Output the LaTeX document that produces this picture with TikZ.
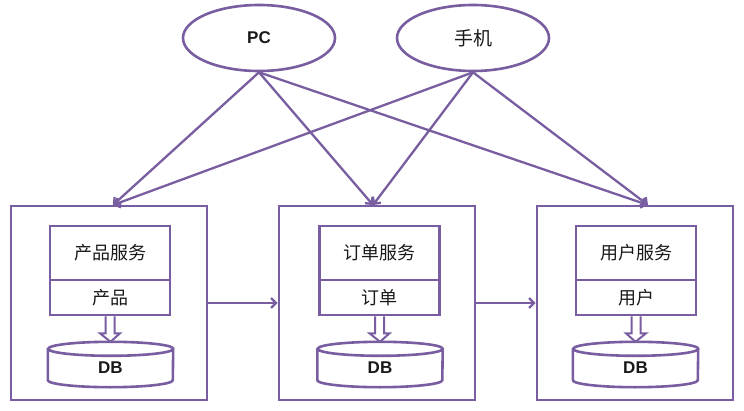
\documentclass[tikz,border=0pt]{standalone}
\usepackage{fontspec}
\setmainfont{Liberation Sans}
\newfontfamily\cjk{Noto Sans CJK SC}
\usetikzlibrary{shapes.geometric,arrows.meta,calc}
\definecolor{lineP}{RGB}{120,94,160}
\definecolor{txt}{RGB}{25,25,25}
\begin{document}
\begin{tikzpicture}[x=1pt,y=1pt,
 client/.style={ellipse,draw=lineP,line width=2.6pt,minimum width=152pt,minimum height=66pt,inner sep=0pt,text=txt},
 outerbox/.style={draw=lineP,line width=2.6pt,minimum width=196pt,minimum height=194pt,inner sep=0pt},
 svcbox/.style={draw=lineP,line width=2.6pt,minimum width=120pt,inner sep=0pt,text=txt,font=\cjk\fontsize{18}{21}\selectfont},
 dbnode/.style={minimum width=125pt,minimum height=38pt,inner sep=0pt,font=\bfseries\fontsize{17}{20}\selectfont,text=txt},
 link/.style={draw=lineP,line width=2.3pt,-{Straight Barb[length=5pt,width=10pt]}},
 cyl/.style={draw=lineP,line width=2.6pt},
 hollow/.style={draw=lineP,line width=2pt,line join=miter},
]
\useasboundingbox[fill=white] (0,0) rectangle (744,410);

% clients
\node[client,font=\bfseries\fontsize{17}{20}\selectfont] (pc) at (259,372) {PC};
\node[client,font=\cjk\fontsize{19}{22}\selectfont] (phone) at (473,372) {手机};

% outer boxes
\node[outerbox] (b1) at (109,107) {};
\node[outerbox] (b2) at (377,107) {};
\node[outerbox] (b3) at (635,107) {};

% service boxes
\node[svcbox,minimum height=54pt] (s1) at (110,157) {产品服务};
\node[svcbox,minimum height=35pt] (s1l) at (110,112.5) {产品};
\node[svcbox,minimum height=54pt] (s2) at (379.5,157) {订单服务};
\node[svcbox,minimum height=35pt] (s2l) at (379.5,112.5) {订单};
\node[svcbox,minimum height=54pt] (s3) at (636,157) {用户服务};
\node[svcbox,minimum height=35pt] (s3l) at (636,112.5) {用户};

% databases
\node[dbnode] (db1) at (110.5,42) {DB};
\node[dbnode] (db2) at (380,42) {DB};
\node[dbnode] (db3) at (635.5,42) {DB};
\foreach \d in {db1,db2,db3}{
  \draw[cyl] (\d.north west) -- ([yshift=7pt]\d.south west)
    arc[start angle=180,end angle=360,x radius=62.5pt,y radius=7pt]
    -- (\d.north east)
    arc[start angle=0,end angle=360,x radius=62.5pt,y radius=7pt];
}

% hollow arrows service -> db
\foreach \s/\d in {s1l/db1,s2l/db2,s3l/db3}{
  \draw[hollow] ($(\s.south)+(-4.5,0)$) -- ++(0,-17) -- ++(-5.5,0)
    -- ($(\d.north)+(0,7)$) -- ($(\s.south)+(10,-17)$) -- ++(-5.5,0) -- ++(0,17);
}

% targets on box tops
\coordinate (t1) at (113,205);
\coordinate (t2) at (373,205);
\coordinate (t3) at (648,205);

% client connectors
\draw[link] (pc.south) -- (t1);
\draw[link] (pc.south) -- (t2);
\draw[link] (pc.south) -- (t3);
\draw[link] (phone.south) -- (t1);
\draw[link] (phone.south) -- (t2);
\draw[link] (phone.south) -- (t3);

% box to box
\draw[link] (b1.east) -- (b2.west);
\draw[link] (b2.east) -- (b3.west);
\end{tikzpicture}
\end{document}
